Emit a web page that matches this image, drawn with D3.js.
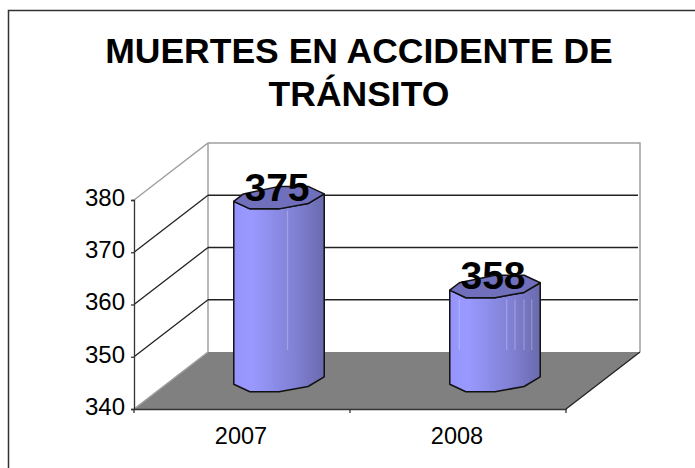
<!DOCTYPE html>
<html>
<head>
<meta charset="utf-8">
<script src="https://cdn.jsdelivr.net/npm/d3@7"></script>
<style>
  html, body { margin: 0; padding: 0; background: #fff; overflow: hidden; }
  text { font-family: "Liberation Sans", Arial, sans-serif; fill: #000; }
</style>
</head>
<body>
<script>
var titleLines = ['MUERTES EN ACCIDENTE DE', 'TRÁNSITO'];
var years = ['2007', '2008'];
var deaths = [375, 358];
var yTicks = [340, 350, 360, 370, 380];

var width = 695;
var height = 468;

var svg = d3.select('body')
  .append('svg')
  .attr('width', width)
  .attr('height', height);

// outer chart frame, runs off the right and bottom of the picture
svg.append('path')
  .attr('d', 'M8.5,' + height + 'V10.5H' + width)
  .attr('fill', 'none')
  .attr('stroke', '#333')
  .attr('stroke-width', 1.5);

svg.selectAll('.title')
  .data(titleLines)
  .enter()
  .append('text')
  .classed('title', true)
  .text(function(d) { return d; })
  .attr('x', 359)
  .attr('y', function(d, i) { return 63 + i * 43; })
  .attr('text-anchor', 'middle')
  .attr('font-size', '35.5px')
  .attr('font-weight', 'bold');

var y = d3.scaleLinear().domain([340, 380]).range([409, 200]);
var x = d3.scaleBand().domain(years).range([134, 566]);

// oblique depth of the 3d box
var depthX = 74;
var depthY = -57;
var wallTop = y(380) + depthY;
var backLeft = x.range()[0] + depthX;
var backRight = x.range()[1] + depthX;
var floorBack = y(340) + depthY;

// floor
svg.append('path')
  .attr('d', d3.line()([
    [x.range()[0], y(340)], [x.range()[1], y(340)],
    [backRight, floorBack], [backLeft, floorBack]
  ]) + 'Z')
  .attr('fill', '#808080');

// walls
svg.append('path')
  .attr('d', d3.line()([
    [x.range()[0], y(380)], [backLeft, wallTop], [backRight, wallTop], [backRight, floorBack]
  ]))
  .attr('fill', 'none')
  .attr('stroke', '#a0a0a0')
  .attr('stroke-width', 1.5);

svg.append('line')
  .attr('x1', backLeft).attr('x2', backLeft)
  .attr('y1', wallTop).attr('y2', floorBack)
  .attr('stroke', '#a0a0a0')
  .attr('stroke-width', 1.5);

svg.append('line')
  .attr('x1', x.range()[0]).attr('x2', backLeft)
  .attr('y1', y(340)).attr('y2', floorBack)
  .attr('stroke', '#a0a0a0')
  .attr('stroke-width', 1.5);

// gridlines, side wall then back wall
var gridValues = yTicks.slice(1, 4);
svg.selectAll('.grid-side')
  .data(gridValues)
  .enter()
  .append('line')
  .classed('grid-side', true)
  .attr('x1', x.range()[0])
  .attr('x2', backLeft)
  .attr('y1', function(d) { return y(d); })
  .attr('y2', function(d) { return y(d) + depthY; })
  .attr('stroke', '#222')
  .attr('stroke-width', 1.3);

svg.selectAll('.grid-back')
  .data(gridValues)
  .enter()
  .append('line')
  .classed('grid-back', true)
  .attr('x1', backLeft)
  .attr('x2', backRight - 2)
  .attr('y1', function(d) { return y(d) + depthY; })
  .attr('y2', function(d) { return y(d) + depthY; })
  .attr('stroke', '#222')
  .attr('stroke-width', 1.3);

// axes
var yAxis = svg.append('g')
  .attr('transform', 'translate(' + x.range()[0] + ',0)')
  .call(d3.axisLeft(y).tickValues(yTicks).tickSize(3).tickPadding(6));

var xAxis = svg.append('g')
  .attr('transform', 'translate(0,' + y(340) + ')')
  .call(d3.axisBottom(x).tickSize(0).tickPadding(18));

yAxis.selectAll('path, line').attr('stroke', '#333').attr('stroke-width', 1.3);
xAxis.selectAll('path').attr('stroke', '#333').attr('stroke-width', 1.5);
yAxis.selectAll('text').attr('font-size', '24px').attr('dy', '0.22em');
xAxis.selectAll('text').attr('font-size', '23.5px').attr('dx', '-1');
yAxis.attr('font-family', null);
xAxis.attr('font-family', null);

svg.selectAll('.x-tick')
  .data(d3.range(years.length + 1))
  .enter()
  .append('line')
  .classed('x-tick', true)
  .attr('x1', function(d) { return x.range()[0] + d * x.step(); })
  .attr('x2', function(d) { return x.range()[0] + d * x.step(); })
  .attr('y1', y(340))
  .attr('y2', y(340) + 4)
  .attr('stroke', '#333')
  .attr('stroke-width', 1.3);

svg.append('path')
  .attr('d', d3.line()([[x.range()[1], y(340)], [backRight, floorBack]]))
  .attr('stroke', '#222')
  .attr('stroke-width', 1.3);

// left to right shading of the cylinders
var grad = svg.append('defs')
  .append('linearGradient')
  .attr('id', 'barShade');

grad.selectAll('stop')
  .data([[0, '#9494fb'], [0.2, '#9999ff'], [0.45, '#8c8ce8'], [0.7, '#7f7fd2'], [1, '#6a6aae']])
  .enter()
  .append('stop')
  .attr('offset', function(d) { return d[0]; })
  .attr('stop-color', function(d) { return d[1]; });

// the "cylinder" is an uneven octagon seen in the same oblique view
var radiusX = 42.5;
var radiusDepth = 0.21;
var frontAngles = [18, -30, -70, -110, -162];
var backAngles = [-198, -250, -290];
var ringAngles = frontAngles.concat(backAngles);

function ringPoint(cx, cy, deg) {
  var t = deg * Math.PI / 180;
  return [
    cx + radiusX * Math.cos(t) + radiusDepth * depthX * Math.sin(t),
    cy + radiusDepth * depthY * Math.sin(t)
  ];
}

// pale facet seams left on the lower part of each bar, as offsets from its centre
var seams = [[8.5], [-35.7, 11.7, 20, 29, 36.7]];

var outline = d3.line();

var bars = svg.selectAll('.bar')
  .data(deaths)
  .enter()
  .append('g')
  .classed('bar', true);

bars.each(function(d, i) {
  var g = d3.select(this);
  var cx = x(years[i]) + x.bandwidth() / 2 + depthX / 2;
  var baseY = y(340) + depthY / 2;
  var topY = y(d) + depthY / 2;

  // front half of the base, then back up along the front half of the top
  var lower = frontAngles.map(function(a) { return ringPoint(cx, baseY, a); });
  var upper = frontAngles.map(function(a) { return ringPoint(cx, topY, a); }).reverse();

  g.append('path')
    .attr('d', outline(lower.concat(upper)) + 'Z')
    .attr('fill', 'url(#barShade)');

  g.selectAll('.seam')
    .data(seams[i])
    .enter()
    .append('line')
    .classed('seam', true)
    .attr('x1', function(s) { return cx + s; })
    .attr('x2', function(s) { return cx + s; })
    .attr('y1', topY + 13)
    .attr('y2', floorBack - 2)
    .attr('stroke', '#fff')
    .attr('stroke-opacity', 0.25)
    .attr('stroke-width', 1.2);

  g.append('path')
    .attr('d', outline(lower.concat(upper)) + 'Z')
    .attr('fill', 'none')
    .attr('stroke', '#111')
    .attr('stroke-width', 1.5)
    .attr('stroke-linejoin', 'round');

  g.append('path')
    .attr('d', outline(ringAngles.map(function(a) { return ringPoint(cx, topY, a); })) + 'Z')
    .attr('fill', '#6f6fbb')
    .attr('stroke', '#111')
    .attr('stroke-width', 1.5)
    .attr('stroke-linejoin', 'round');

  g.append('text')
    .text(d)
    .attr('x', cx - 2)
    .attr('y', topY + 3)
    .attr('text-anchor', 'middle')
    .attr('font-size', '39px')
    .attr('font-weight', 'bold');
});
</script>
</body>
</html>
